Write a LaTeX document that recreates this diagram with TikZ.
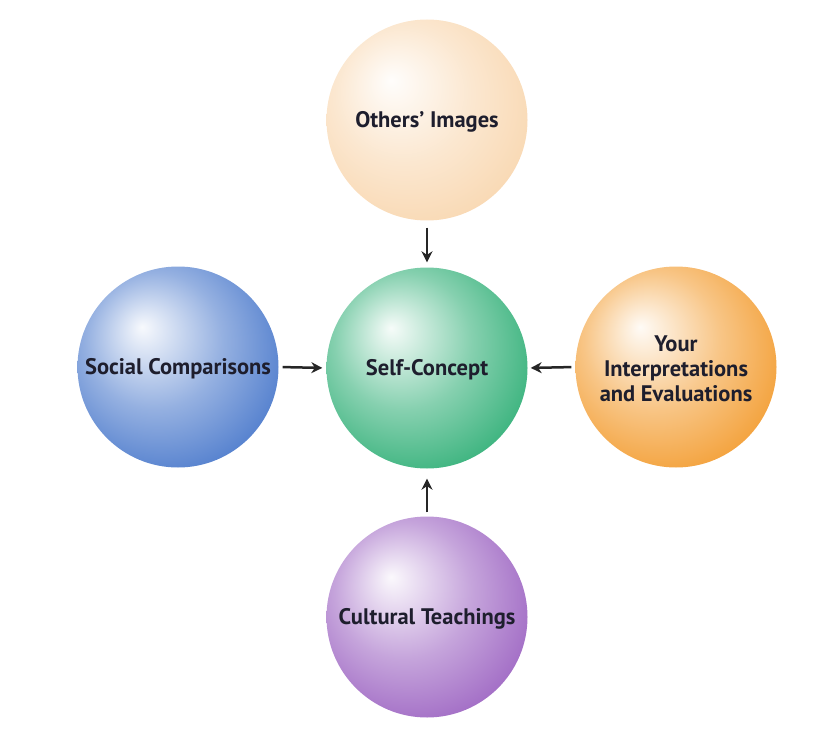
\documentclass[tikz,border=0pt]{standalone}
\usepackage{fontspec}
\setmainfont{PT Sans}
\usetikzlibrary{arrows.meta}
\colorlet{balc}{blue}
\pgfdeclareradialshading[balc]{sphereshade}{\pgfpoint{-9bp}{10bp}}{%
 color(0bp)=(balc!4!white);
 color(4bp)=(balc!16!white);
 color(17bp)=(balc!55!white);
 color(30bp)=(balc!86!white);
 color(38bp)=(balc);
 color(50bp)=(balc)}
\definecolor{cblue}{RGB}{62,112,200}
\definecolor{cgreen}{RGB}{35,170,110}
\definecolor{corange}{RGB}{242,150,35}
\definecolor{cpurple}{RGB}{150,90,190}
\definecolor{cpeach}{RGB}{248,212,170}
\definecolor{txt}{RGB}{30,30,45}
\tikzset{
  sphere/.style={circle, minimum size=201pt, inner sep=0pt,
     /utils/exec={\colorlet{balc}{#1}}, shading=sphereshade},
  lbl/.style={font=\bfseries\fontsize{22.5}{25}\selectfont, text=txt,
     align=center, yshift=-2pt, inner sep=0pt},
  conn/.style={line width=2.5pt, draw=black!85,
     -{Stealth[length=11pt,width=11pt]}}
}
\begin{document}
\begin{tikzpicture}[x=1pt,y=-1pt]
\useasboundingbox (0,0) rectangle (819,738);
\node[sphere=cpeach]  (oth) at (427,120) {};
\node[sphere=cgreen]  (self) at (427,368) {};
\node[sphere=cblue]   (soc) at (178,367) {};
\node[sphere=corange] (your) at (676,367) {};
\node[sphere=cpurple] (cul) at (427,617) {};
\node[lbl] (othT) at (oth) {Others’ Images};
\node[lbl] (selfT) at (self) {Self-Concept};
\node[lbl] (socT) at (soc) {Social Comparisons};
\node[lbl] (yourT) at (your) {Your\\Interpretations\\and Evaluations};
\node[lbl] (culT) at (cul) {Cultural Teachings};
\draw[conn, shorten <=7pt, shorten >=5pt] (oth.south) -- (self.north);
\draw[conn, shorten <=4pt, shorten >=4pt] (soc.east) -- (self.west);
\draw[conn, shorten <=4pt, shorten >=3pt] (your.west) -- (self.east);
\draw[conn, shorten <=4pt, shorten >=10pt] (cul.north) -- (self.south);
\end{tikzpicture}
\end{document}
